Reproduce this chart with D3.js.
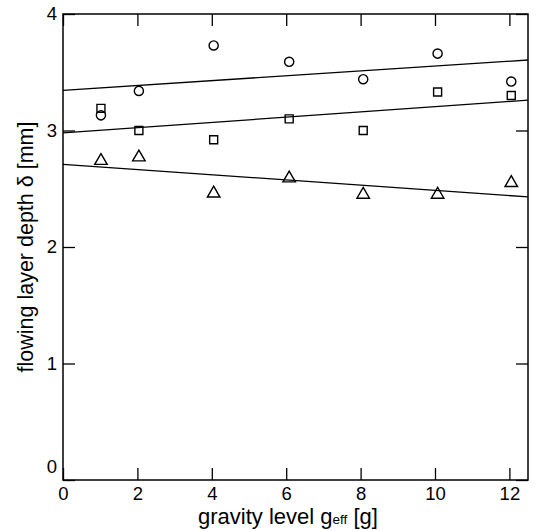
<!DOCTYPE html>
<html>
<head>
<meta charset="utf-8">
<script src="https://cdn.jsdelivr.net/npm/d3@7"></script>
<style>
  html, body { margin: 0; padding: 0; background: #fff; }
  svg { display: block; }
  text { font-family: Arial, "Liberation Sans", Helvetica, sans-serif; fill: #000; }
</style>
</head>
<body>
<script>
// ---- data ----
const gravity = [1.02, 2.04, 4.05, 6.08, 8.07, 10.07, 12.05];
const circleDepth = [3.13, 3.34, 3.73, 3.59, 3.44, 3.66, 3.42];
const squareDepth = [3.19, 3.00, 2.92, 3.10, 3.00, 3.33, 3.30];
const triangleDepth = [2.74, 2.77, 2.46, 2.59, 2.45, 2.45, 2.55];
const fitX = [0, 12.5];
const circleFit = [3.345, 3.605];
const squareFit = [2.98, 3.26];
const triangleFit = [2.71, 2.43];
const xTicks = [0, 2, 4, 6, 8, 10, 12];
const yTicks = [0, 1, 2, 3, 4];
const xTitle = "gravity level g";
const xTitleSub = "eff";
const xTitleEnd = " [g]";
const yTitle = "flowing layer depth \u03b4 [mm]";

(function () {
// ---- layout ----
const W = 537, H = 531;
const mLeft = 63, mTop = 14, mRight = 528, mBottom = 480;
const tickLen = 12;

const svg = d3.select("body").append("svg").attr("width", W).attr("height", H);

const x = d3.scaleLinear().domain([0, 12.5]).range([mLeft, mRight]);
const y = d3.scaleLinear().domain([0, 4]).range([mBottom, mTop]);

// frame
svg.append("rect")
  .attr("x", mLeft).attr("y", mTop)
  .attr("width", mRight - mLeft).attr("height", mBottom - mTop)
  .attr("fill", "none").attr("stroke", "#000").attr("stroke-width", 1.5);

// axes (inward ticks)
const fmt = d3.format("d");
const gx = svg.append("g").attr("transform", `translate(0,${mBottom})`)
  .call(d3.axisBottom(x).tickValues(xTicks).tickSize(-tickLen).tickFormat(fmt));
const gxTop = svg.append("g").attr("transform", `translate(0,${mTop})`)
  .call(d3.axisTop(x).tickValues(xTicks).tickSize(-tickLen).tickFormat(""));
const gy = svg.append("g").attr("transform", `translate(${mLeft},0)`)
  .call(d3.axisLeft(y).tickValues(yTicks).tickSize(-tickLen).tickPadding(6).tickFormat(fmt));
const gyRight = svg.append("g").attr("transform", `translate(${mRight},0)`)
  .call(d3.axisRight(y).tickValues(yTicks).tickSize(-tickLen).tickFormat(""));

[gx, gxTop, gy, gyRight].forEach(g => {
  g.select(".domain").remove();
  g.selectAll(".tick line").attr("stroke", "#000").attr("stroke-width", 1.3);
  g.selectAll("text").attr("font-size", 18.5).attr("fill", "#000").attr("font-family", "Arial, 'Liberation Sans', sans-serif");
});
gx.selectAll("text").attr("dy", null).attr("y", 20);
// y=0 label lifted above axis like the reference
gy.selectAll(".tick").filter(d => d === 0).select("text").attr("dy", "-0.42em");

// fit lines
const line = d3.line().x(d => x(d[0])).y(d => y(d[1]));
[circleFit, squareFit, triangleFit].forEach(f => {
  svg.append("path")
    .datum(fitX.map((v, i) => [v, f[i]]))
    .attr("d", line)
    .attr("fill", "none").attr("stroke", "#000").attr("stroke-width", 1.3);
});

// markers
function drawSeries(vals, type, size) {
  const sym = d3.symbol().type(type).size(size);
  svg.append("g").selectAll("path")
    .data(gravity.map((g, i) => [g, vals[i]]))
    .join("path")
    .attr("d", sym)
    .attr("transform", d => `translate(${x(d[0])},${y(d[1])})`)
    .attr("fill", "none").attr("stroke", "#000").attr("stroke-width", 1.4);
}
drawSeries(circleDepth, d3.symbolCircle, 66);
drawSeries(squareDepth, d3.symbolSquare, 64);
drawSeries(triangleDepth, d3.symbolTriangle, 68);

// axis titles
const xt = svg.append("text")
  .attr("x", 288).attr("y", 524)
  .attr("text-anchor", "middle").attr("font-size", 22);
xt.append("tspan").text(xTitle);
xt.append("tspan").attr("font-size", 13.5).text(xTitleSub);
xt.append("tspan").attr("font-size", 22).text(xTitleEnd);

svg.append("text")
  .attr("transform", `translate(33,${(mTop + mBottom) / 2}) rotate(-90)`)
  .attr("text-anchor", "middle").attr("font-size", 21.5)
  .text(yTitle);
})();
</script>
</body>
</html>
